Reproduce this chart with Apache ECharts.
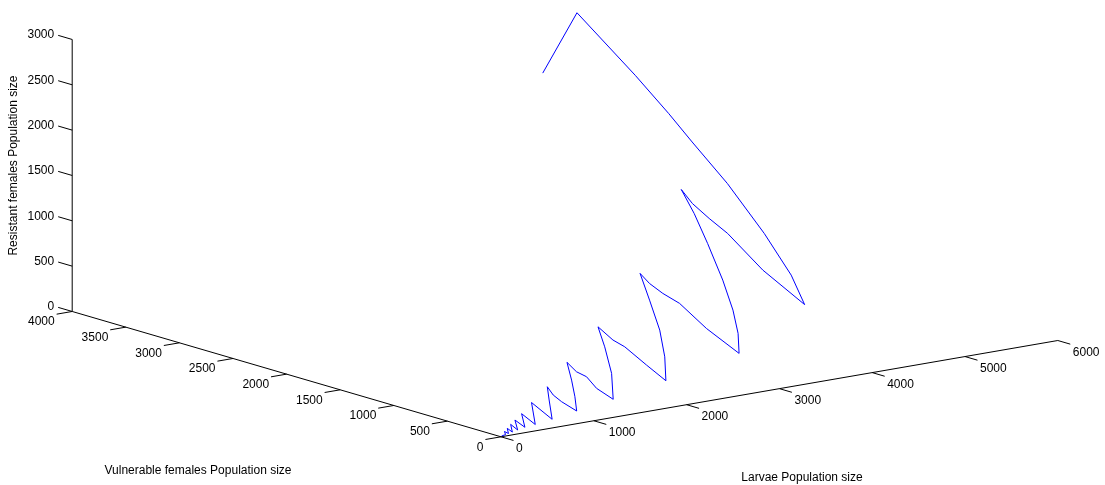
<!DOCTYPE html>
<html>
<head>
<meta charset="utf-8">
<script src="https://cdn.jsdelivr.net/npm/echarts@6/dist/echarts.min.js"></script>
<style>
  html, body { margin: 0; padding: 0; background: #fff; }
  #chart { width: 1105px; height: 485px; }
</style>
</head>
<body>
<div id="chart"></div>
<script>
// 种群轨迹（幼虫 / 易感雌虫 / 抗性雌虫）
const larvae = [
  4114, 5042, 4923, 4831, 4750, 4640, 4459, 4273, 4091, 4069,
  4129, 4117, 4120, 4164, 4033, 3846, 3606, 3389, 3196, 3000,
  2962, 2978, 2930, 2912, 2931, 2741, 2525, 2296, 2060, 2047,
  2038, 2002, 2003, 1858, 1647, 1395, 1358, 1387, 1348, 1359,
  1218, 1077, 946, 906, 899, 931, 811, 640, 627, 435,
  423, 313, 298, 220, 215, 151, 144, 101, 86, 64, 14
]
const vulnerable = [
  3172, 3656, 3009, 2617, 2329, 1905, 1404, 992, 709, 1080,
  1460, 1622, 1781, 1923, 1689, 1402, 1053, 770, 555, 376,
  648, 912, 1027, 1135, 1240, 987, 705, 460, 245, 415,
  610, 689, 829, 641, 394, 161, 284, 403, 463, 561,
  396, 243, 113, 219, 291, 374, 253, 77, 258, 57,
  174, 48, 128, 35, 96, 25, 66, 18, 42, 13, 6
]
const resistant = [
  2187, 2521, 2075, 1805, 1606, 1314, 968, 684, 489, 745,
  1007, 1119, 1228, 1326, 1165, 967, 726, 531, 383, 259,
  447, 629, 708, 783, 855, 681, 486, 317, 169, 286,
  421, 475, 572, 442, 272, 111, 196, 278, 319, 387,
  273, 168, 78, 151, 201, 258, 175, 53, 178, 39,
  120, 33, 88, 24, 66, 17, 45, 12, 29, 9, 4
]

const larvaeTicks = [0, 1000, 2000, 3000, 4000, 5000, 6000]
const vulnerableTicks = [0, 500, 1000, 1500, 2000, 2500, 3000, 3500, 4000]
const resistantTicks = [0, 500, 1000, 1500, 2000, 2500, 3000]

// 正交视角：原点像素位置 + 各轴每单位的像素步长
const view = {
  origin: [501, 436.8],
  l: [0.0928, -0.01605],
  v: [-0.1072, -0.03133],
  r: [0, -0.09067]
}

function project(l, v, r) {
  return [
    view.origin[0] + l * view.l[0] + v * view.v[0] + r * view.r[0],
    view.origin[1] + l * view.l[1] + v * view.v[1] + r * view.r[1]
  ]
}

function unit(vec, sign) {
  const len = Math.hypot(vec[0], vec[1])
  return [sign * vec[0] / len, sign * vec[1] / len]
}

const FONT = '12px "Liberation Sans", Arial, sans-serif'
const lMax = larvaeTicks[larvaeTicks.length - 1]
const vMax = vulnerableTicks[vulnerableTicks.length - 1]
const rMax = resistantTicks[resistantTicks.length - 1]

function renderAxes(params, api) {
  const children = []
  const pt = (l, v, r) => api.coord(project(l, v, r))
  const seg = (a, b) => children.push({
    type: 'line',
    shape: { x1: a[0], y1: a[1], x2: b[0], y2: b[1] },
    style: { stroke: '#000', lineWidth: 1 }
  })
  const label = (p, text, align, vAlign) => children.push({
    type: 'text',
    x: p[0],
    y: p[1],
    style: {
      text: text,
      font: FONT,
      fill: '#000',
      align: align,
      verticalAlign: vAlign
    }
  })

  // 幼虫轴
  seg(pt(0, 0, 0), pt(lMax, 0, 0))
  const lTickDir = unit(view.v, -1)
  larvaeTicks.forEach(t => {
    const p = pt(t, 0, 0)
    seg(p, [p[0] + lTickDir[0] * 13, p[1] + lTickDir[1] * 13])
    label([p[0] + 15, p[1] + 12], String(t), 'left', 'middle')
  })

  // 易感雌虫轴
  seg(pt(0, 0, 0), pt(0, vMax, 0))
  const vTickDir = unit(view.l, -1)
  vulnerableTicks.forEach(t => {
    const p = pt(0, t, 0)
    seg(p, [p[0] + vTickDir[0] * 15.8, p[1] + vTickDir[1] * 15.8])
    label([p[0] - 17.5, p[1] + 10.5], String(t), 'right', 'middle')
  })

  // 抗性雌虫轴
  seg(pt(0, vMax, 0), pt(0, vMax, rMax))
  const rTickDir = unit(view.v, 1)
  resistantTicks.forEach(t => {
    const p = pt(0, vMax, t)
    seg(p, [p[0] + rTickDir[0] * 14.6, p[1] + rTickDir[1] * 14.6])
    label([p[0] - 18, p[1] - 4.5], String(t), 'right', 'middle')
  })

  return { type: 'group', children: children }
}

const chart = echarts.init(document.getElementById('chart'), null, { renderer: 'canvas' })

chart.setOption({
  animation: false,
  backgroundColor: '#fff',
  grid: { left: 0, right: 0, top: 0, bottom: 0 },
  xAxis: { type: 'value', min: 0, max: 1105, show: false },
  yAxis: { type: 'value', min: 0, max: 485, inverse: true, show: false },
  graphic: [
    {
      type: 'text',
      x: 13.5,
      y: 165.5,
      rotation: Math.PI / 2,
      style: {
        text: 'Resistant females Population size',
        font: FONT,
        fill: '#000',
        align: 'center',
        verticalAlign: 'middle'
      }
    },
    {
      type: 'text',
      x: 198,
      y: 471,
      style: {
        text: 'Vulnerable females Population size',
        font: FONT,
        fill: '#000',
        align: 'center',
        verticalAlign: 'middle'
      }
    },
    {
      type: 'text',
      x: 802,
      y: 478,
      style: {
        text: 'Larvae Population size',
        font: FONT,
        fill: '#000',
        align: 'center',
        verticalAlign: 'middle'
      }
    }
  ],
  series: [
    {
      type: 'custom',
      renderItem: renderAxes,
      data: [0],
      silent: true
    },
    {
      type: 'line',
      data: larvae.map((l, i) => project(l, vulnerable[i], resistant[i])),
      symbol: 'none',
      smooth: false,
      lineStyle: { color: '#0000ff', width: 1 },
      silent: true
    }
  ]
})
</script>
</body>
</html>
